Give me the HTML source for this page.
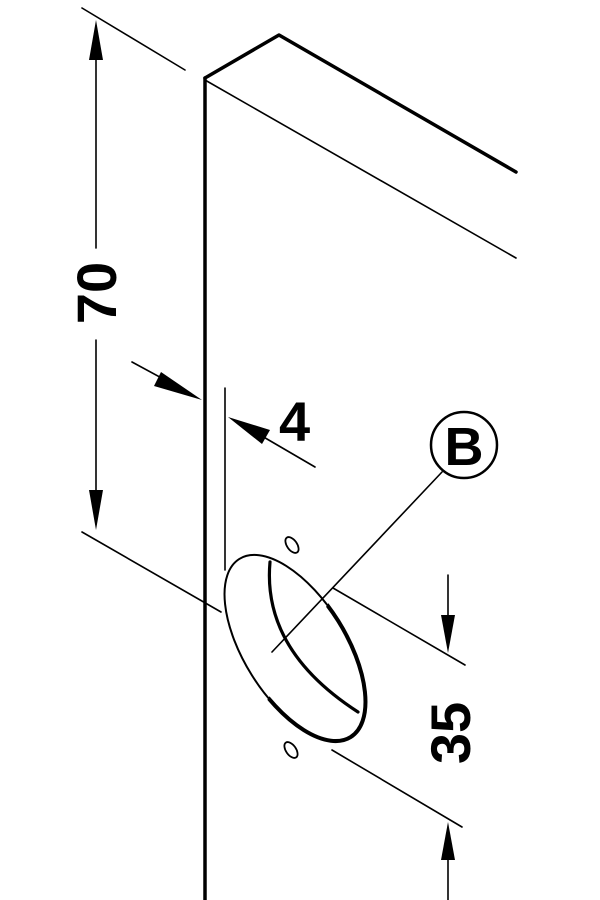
<!DOCTYPE html>
<html><head><style>body{margin:0;background:#fff}svg{display:block}</style></head>
<body>
<svg width="600" height="900" viewBox="0 0 600 900" xmlns="http://www.w3.org/2000/svg">
<defs>
<clipPath id="rc"><polygon points="240,530 420,530 420,780 360,780 345,742 255,555"/></clipPath>
</defs>
<g stroke="#000" fill="none" stroke-linecap="round">
<line x1="205" y1="78" x2="205" y2="900" stroke-width="3.5"/>
<polyline points="205,78 279,35 516,172" stroke-width="3.5" stroke-linejoin="round"/>
<line x1="205" y1="80" x2="516" y2="258" stroke-width="1.6"/>
<line x1="82" y1="8" x2="185" y2="70" stroke-width="1.6"/>
<line x1="82" y1="532" x2="221" y2="612" stroke-width="1.6"/>
<line x1="96" y1="40" x2="96" y2="248" stroke-width="1.6"/>
<line x1="96" y1="340" x2="96" y2="510" stroke-width="1.6"/>
<line x1="132" y1="362" x2="180" y2="388" stroke-width="1.6"/>
<line x1="225" y1="388" x2="225" y2="570" stroke-width="1.6"/>
<line x1="315" y1="467" x2="255" y2="432" stroke-width="1.6"/>
<line x1="442" y1="472" x2="272" y2="652" stroke-width="1.6"/>
<line x1="333" y1="588" x2="465" y2="665" stroke-width="1.6"/>
<line x1="332" y1="750" x2="462" y2="827" stroke-width="1.6"/>
<line x1="448" y1="575" x2="448" y2="630" stroke-width="1.6"/>
<line x1="448" y1="845" x2="448" y2="900" stroke-width="1.6"/>
<ellipse cx="295" cy="648" rx="105" ry="51" transform="rotate(58 295 648)" stroke-width="2"/>
<ellipse cx="295" cy="648" rx="105" ry="51" transform="rotate(58 295 648)" stroke-width="4" clip-path="url(#rc)"/>
<path d="M270,562 Q262,650 358,712" stroke-width="3.2"/>
<ellipse cx="292" cy="545" rx="5" ry="9" transform="rotate(-35 292 545)" stroke-width="1.8"/>
<ellipse cx="291" cy="750" rx="5" ry="9" transform="rotate(-35 291 750)" stroke-width="1.8"/>
<circle cx="464" cy="445" r="33" stroke-width="2.5"/>
</g>
<g fill="#000">
<polygon points="96,20 89,60 103,60"/>
<polygon points="96,530 89,490 103,490"/>
<polygon points="202,400 161,372 154,386"/>
<polygon points="228,417 262,444 270,430"/>
<polygon points="448,653 441,615 455,615"/>
<polygon points="448,822 441,860 455,860"/>
</g>
<g font-family="Liberation Sans, sans-serif" font-weight="bold" fill="#000">
<text x="0" y="0" font-size="56" text-anchor="middle" transform="translate(116,293) rotate(-90)">70</text>
<text x="279" y="441" font-size="56">4</text>
<text x="0" y="0" font-size="56" text-anchor="middle" transform="translate(470,733) rotate(-90)">35</text>
<text x="464" y="465" font-size="54" text-anchor="middle">B</text>
</g>
</svg>
</body></html>
